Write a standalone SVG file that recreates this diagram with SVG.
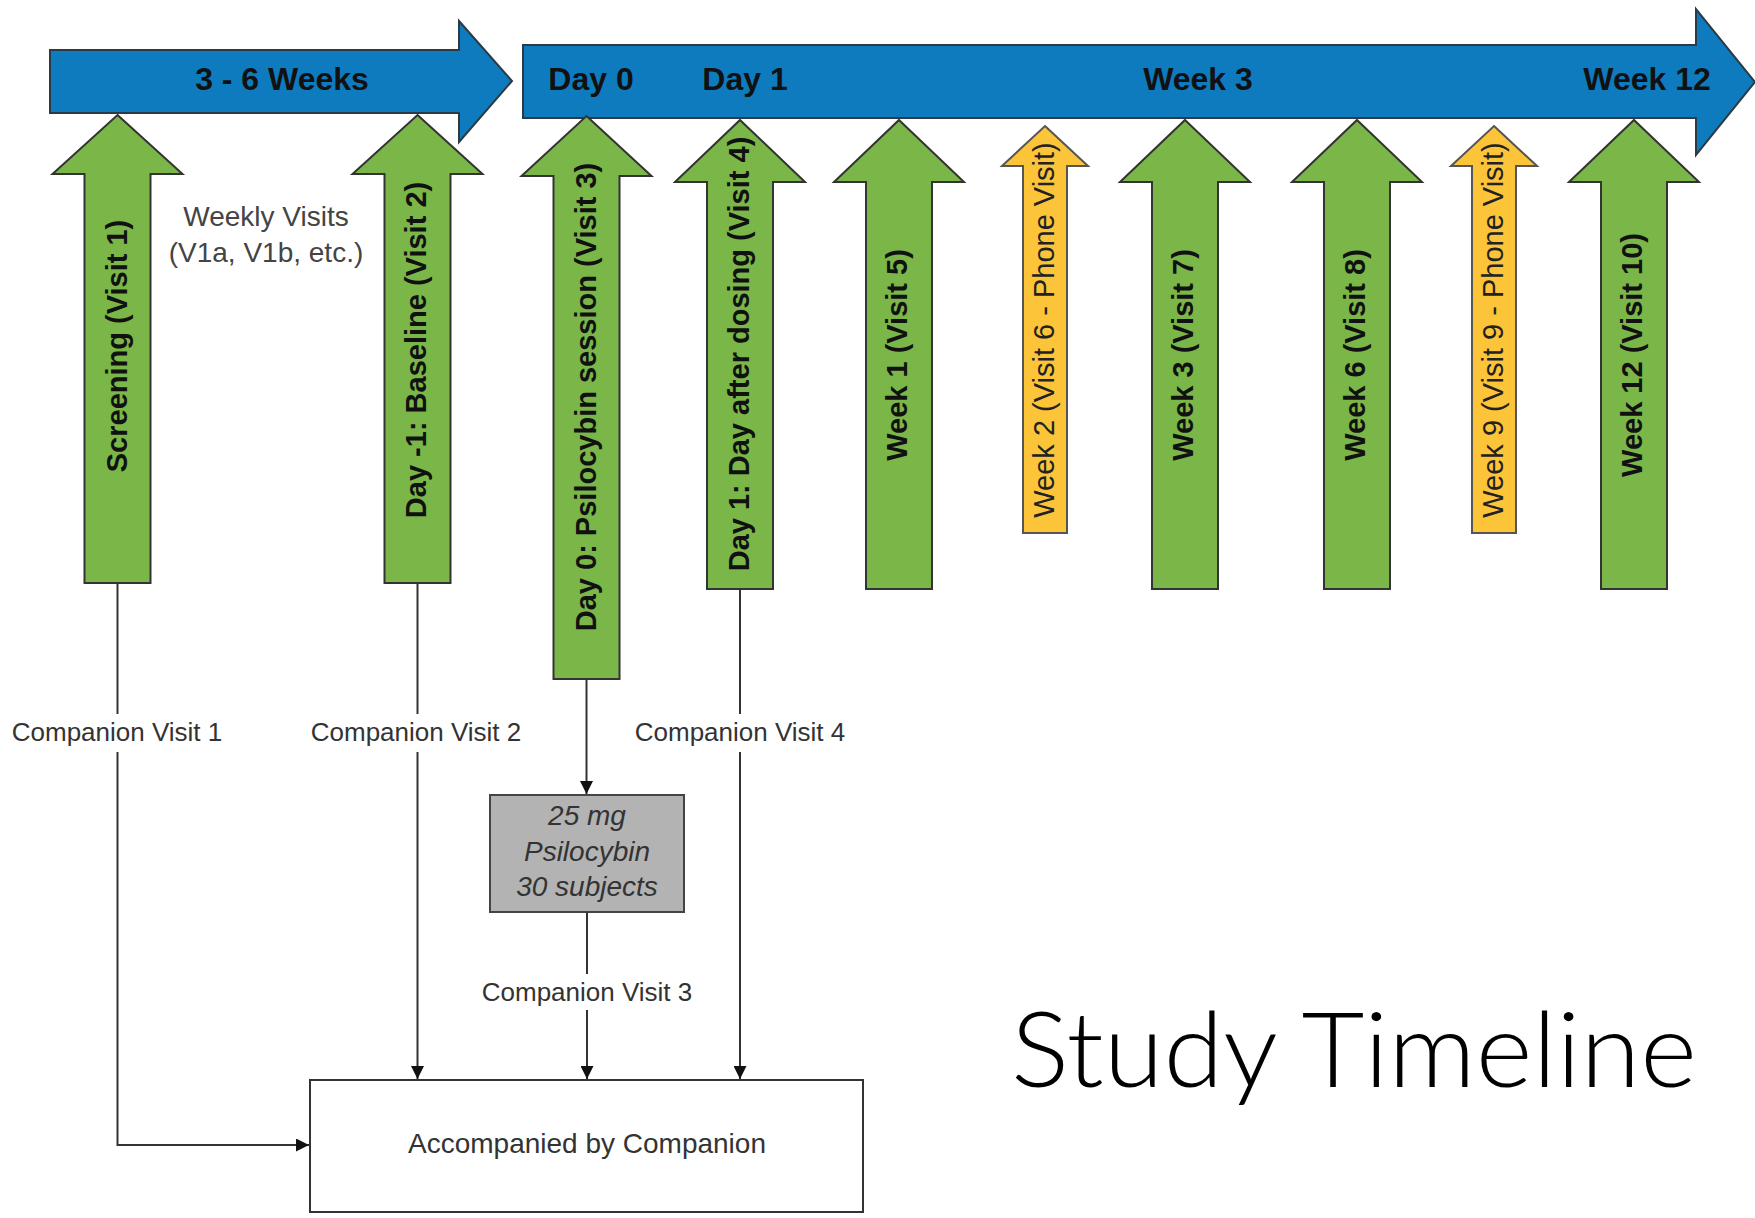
<svg xmlns="http://www.w3.org/2000/svg" width="1755" height="1218" viewBox="0 0 1755 1218">
<style>
.bar{fill:#0f7bbf;stroke:#2a3b45;stroke-width:2}
.g{fill:#7ab648;stroke:#333;stroke-width:2;stroke-linejoin:miter}
.y{fill:#fcc438;stroke:#555;stroke-width:2}
.bl{font-family:"Liberation Sans",Arial,sans-serif;font-weight:bold;font-size:32px;fill:#111;text-anchor:middle}
.vt{font-family:"Liberation Sans",Arial,sans-serif;font-weight:bold;font-size:29px;fill:#111;text-anchor:middle;dominant-baseline:central}
.vy{font-family:"Liberation Sans",Arial,sans-serif;font-size:29px;fill:#222;text-anchor:middle;dominant-baseline:central}
.lb{font-family:"Liberation Sans",Arial,sans-serif;font-size:26px;fill:#333;text-anchor:middle}
.wk{font-family:"Liberation Sans",Arial,sans-serif;font-size:28px;fill:#444;text-anchor:middle}
.it{font-family:"Liberation Sans",Arial,sans-serif;font-size:28px;font-style:italic;fill:#333;text-anchor:middle}
.ln{fill:none;stroke:#333;stroke-width:2}
</style>
<defs>
<marker id="ah" viewBox="0 0 10 10" refX="10" refY="5" markerWidth="13" markerHeight="13" markerUnits="userSpaceOnUse" orient="auto">
<path d="M0,0 L10,5 L0,10 Z" fill="#111"/>
</marker>
</defs>

<g id="bar1">
<polygon class="bar" points="50,50 459,50 459,21 512,81 459,142 459,113 50,113"/>
<text class="bl" x="282" y="90">3 - 6 Weeks</text>
</g>
<g id="bar2">
<polygon class="bar" points="523,45 1696,45 1696,9 1755,82 1696,155 1696,118 523,118"/>
<text class="bl" x="591" y="90">Day 0</text>
<text class="bl" x="745" y="90">Day 1</text>
<text class="bl" x="1198" y="90">Week 3</text>
<text class="bl" x="1647" y="90">Week 12</text>
</g>

<g id="weekly">
<text class="wk" x="266" y="226">Weekly Visits</text>
<text class="wk" x="266" y="262">(V1a, V1b, etc.)</text>
</g>

<g id="v1">
<path class="g" d="M117.5,115 L182.5,174 L150.5,174 L150.5,583 L84.5,583 L84.5,174 L52.5,174 Z"/>
<text class="vt" transform="translate(117,346) rotate(-90)">Screening (Visit 1)</text>
</g>
<g id="v2">
<path class="g" d="M417.5,115 L482.5,174 L450.5,174 L450.5,583 L384.5,583 L384.5,174 L352.5,174 Z"/>
<text class="vt" transform="translate(416,350) rotate(-90)">Day -1: Baseline (Visit 2)</text>
</g>
<g id="v3">
<path class="g" d="M586.5,116 L651.5,176 L619.5,176 L619.5,679 L553.5,679 L553.5,176 L521.5,176 Z"/>
<text class="vt" transform="translate(586,397) rotate(-90)">Day 0: Psilocybin session (Visit 3)</text>
</g>
<g id="v4">
<path class="g" d="M740,120 L805,182 L773,182 L773,589 L707,589 L707,182 L675,182 Z"/>
<text class="vt" transform="translate(739,354) rotate(-90)">Day 1: Day after dosing (Visit 4)</text>
</g>
<g id="v5">
<path class="g" d="M899,120 L964,182 L932,182 L932,589 L866,589 L866,182 L834,182 Z"/>
<text class="vt" transform="translate(897,355) rotate(-90)">Week 1 (Visit 5)</text>
</g>
<g id="v6">
<path class="y" d="M1045,126 L1088,166 L1067,166 L1067,533 L1023,533 L1023,166 L1002,166 Z"/>
<text class="vy" transform="translate(1044,330) rotate(-90)">Week 2 (Visit 6 - Phone Visit)</text>
</g>
<g id="v7">
<path class="g" d="M1185,120 L1250,182 L1218,182 L1218,589 L1152,589 L1152,182 L1120,182 Z"/>
<text class="vt" transform="translate(1183,355) rotate(-90)">Week 3 (Visit 7)</text>
</g>
<g id="v8">
<path class="g" d="M1357,120 L1422,182 L1390,182 L1390,589 L1324,589 L1324,182 L1292,182 Z"/>
<text class="vt" transform="translate(1355,355) rotate(-90)">Week 6 (Visit 8)</text>
</g>
<g id="v9">
<path class="y" d="M1494,126 L1537,166 L1516,166 L1516,533 L1472,533 L1472,166 L1451,166 Z"/>
<text class="vy" transform="translate(1493,330) rotate(-90)">Week 9 (Visit 9 - Phone Visit)</text>
</g>
<g id="v10">
<path class="g" d="M1634,120 L1699,182 L1667,182 L1667,589 L1601,589 L1601,182 L1569,182 Z"/>
<text class="vt" transform="translate(1632,355) rotate(-90)">Week 12 (Visit 10)</text>
</g>

<g id="dose">
<rect x="490" y="795" width="194" height="117" fill="#b3b3b3" stroke="#444" stroke-width="2"/>
<text class="it" x="587" y="825">25 mg</text>
<text class="it" x="587" y="861">Psilocybin</text>
<text class="it" x="587" y="896">30 subjects</text>
</g>

<g id="companion">
<rect x="310" y="1080" width="553" height="132" fill="#fff" stroke="#333" stroke-width="2"/>
<text class="wk" x="587" y="1153" style="fill:#333">Accompanied by Companion</text>
</g>

<g id="connectors">
<path class="ln" d="M117.5,583 V714"/>
<path class="ln" d="M117.5,752 V1145 H309" marker-end="url(#ah)"/>
<path class="ln" d="M417.5,583 V714"/>
<path class="ln" d="M417.5,752 V1079" marker-end="url(#ah)"/>
<path class="ln" d="M586.5,679 V794" marker-end="url(#ah)"/>
<path class="ln" d="M587,912 V974"/>
<path class="ln" d="M587,1010 V1079" marker-end="url(#ah)"/>
<path class="ln" d="M740,589 V714"/>
<path class="ln" d="M740,752 V1079" marker-end="url(#ah)"/>
<text class="lb" x="117" y="741">Companion Visit 1</text>
<text class="lb" x="416" y="741">Companion Visit 2</text>
<text class="lb" x="740" y="741">Companion Visit 4</text>
<text class="lb" x="587" y="1001">Companion Visit 3</text>
</g>

<text x="1011" y="1087" textLength="686" lengthAdjust="spacingAndGlyphs" style="font-family:Lato,'Open Sans',sans-serif;font-weight:300;font-size:104px;fill:#000">Study Timeline</text>
</svg>
